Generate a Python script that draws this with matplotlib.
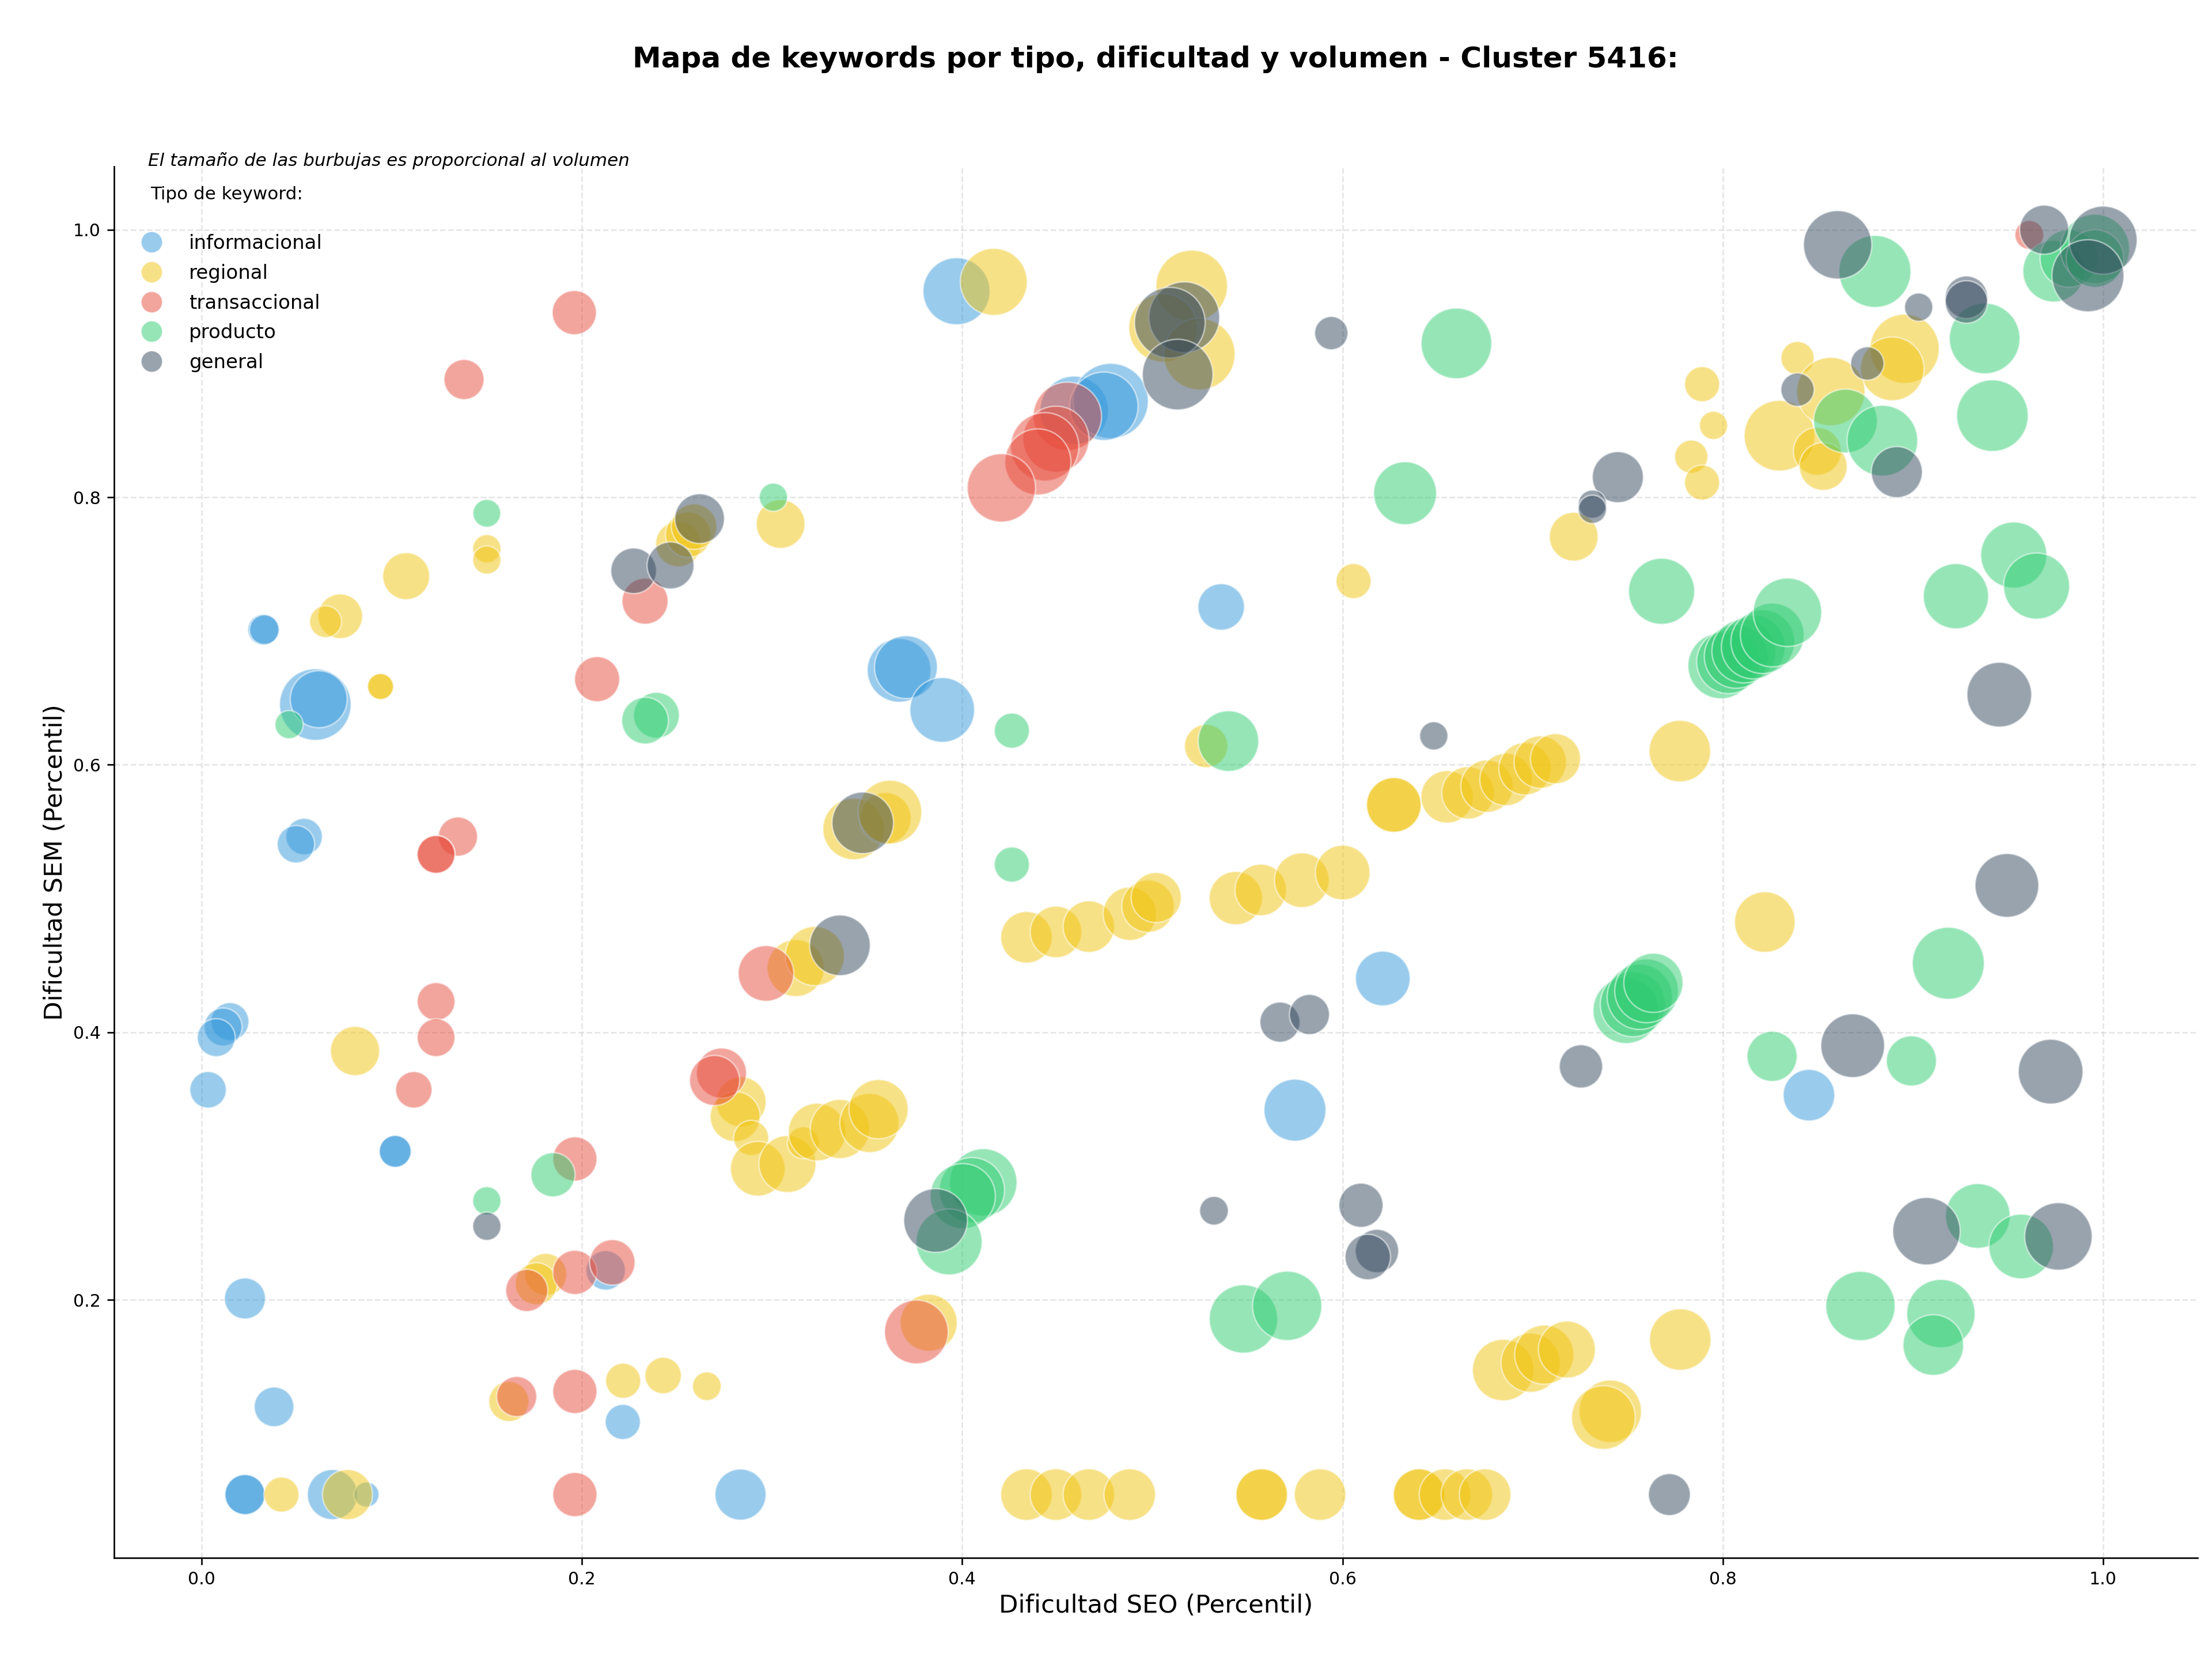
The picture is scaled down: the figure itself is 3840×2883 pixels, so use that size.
import numpy
from matplotlib import pyplot
from matplotlib.lines import Line2D

# keyword types and their colours
tipos = ['informacional', 'regional', 'transaccional', 'producto', 'general']
colores = {'informacional': '#3498db', 'regional': '#f1c40f',
           'transaccional': '#e74c3c', 'producto': '#2ecc71',
           'general': '#34495e'}

# informacional keywords: SEO difficulty, SEM difficulty, volume
info_seo = [0.397, 0.0324, 0.0330, 0.0598, 0.0616, 0.0539, 0.0496, 0.0149,
            0.0113, 0.0077, 0.0034, 0.1018, 0.1018, 0.0228, 0.2125, 0.0381,
            0.2215, 0.0228, 0.0228, 0.0688, 0.0867, 0.2834, 0.3668, 0.3704,
            0.3895, 0.6212, 0.5750, 0.8453, 0.4589, 0.4781, 0.4745, 0.5362]
info_sem = [0.954, 0.701, 0.701, 0.645, 0.649, 0.5463, 0.5406, 0.408,
            0.404, 0.396, 0.357, 0.311, 0.311, 0.201, 0.222, 0.120,
            0.1087, 0.0544, 0.0544, 0.0544, 0.0544, 0.0544, 0.6706, 0.673,
            0.641, 0.4402, 0.3418, 0.353, 0.865, 0.872, 0.868, 0.718]
info_vol = [1216, 260, 240, 1387, 880, 360, 380, 390,
            390, 390, 360, 276, 276, 456, 420, 426,
            334, 436, 436, 680, 170, 706, 1100, 1070,
            1134, 810, 1040, 720, 1266, 1530, 1266, 585]

# regional keywords
reg_seo = [0.4166, 0.5207, 0.5056, 0.5247, 0.150, 0.150, 0.1076, 0.0729,
           0.0652, 0.3045, 0.2507, 0.2559, 0.2590, 0.0941, 0.0941, 0.0807,
           0.3124, 0.3225, 0.2837, 0.2806, 0.289, 0.2925, 0.3081, 0.3164,
           0.3237, 0.3357, 0.3512, 0.356, 0.181, 0.176, 0.1616, 0.2217,
           0.2427, 0.2657, 0.0420, 0.0767, 0.3429, 0.3596, 0.3620, 0.5283,
           0.4338, 0.4493, 0.4666, 0.4881, 0.4977, 0.502, 0.5439, 0.557,
           0.5786, 0.6001, 0.627, 0.627, 0.655, 0.666, 0.676, 0.686,
           0.696, 0.704, 0.712, 0.7774, 0.8221, 0.3824, 0.4338, 0.4493,
           0.4666, 0.4881, 0.5575, 0.5575, 0.5882, 0.6403, 0.6403, 0.6539,
           0.6654, 0.6750, 0.6845, 0.6989, 0.7061, 0.7180, 0.7408, 0.7372,
           0.7776, 0.6058, 0.8956, 0.8891, 0.8393, 0.8298, 0.8568, 0.8497,
           0.8528, 0.7891, 0.7951, 0.7834, 0.7891, 0.7216]
reg_sem = [0.961, 0.958, 0.9266, 0.907, 0.7615, 0.7531, 0.741, 0.711,
           0.707, 0.780, 0.765, 0.772, 0.778, 0.6585, 0.6585, 0.386,
           0.448, 0.457, 0.348, 0.337, 0.321, 0.298, 0.3015, 0.3174,
           0.3254, 0.3277, 0.3322, 0.3425, 0.219, 0.212, 0.124, 0.1395,
           0.1434, 0.1354, 0.0544, 0.0544, 0.552, 0.560, 0.5646, 0.614,
           0.471, 0.475, 0.479, 0.4886, 0.4943, 0.5007, 0.5003, 0.5064,
           0.5137, 0.5194, 0.570, 0.570, 0.576, 0.579, 0.584, 0.589,
           0.597, 0.602, 0.6045, 0.6102, 0.4824, 0.1829, 0.0544, 0.0544,
           0.0544, 0.0544, 0.0544, 0.0544, 0.0544, 0.0544, 0.0544, 0.0544,
           0.0544, 0.0544, 0.1475, 0.153, 0.159, 0.1628, 0.1167, 0.112,
           0.1703, 0.7373, 0.911, 0.896, 0.904, 0.846, 0.879, 0.8343,
           0.823, 0.8845, 0.8537, 0.8303, 0.811, 0.7705]
reg_vol = [1216, 1387, 1270, 1387, 216, 216, 597, 540,
           276, 644, 560, 560, 560, 183, 183, 656,
           880, 950, 680, 680, 334, 810, 880, 276,
           900, 950, 950, 950, 480, 480, 436, 334,
           360, 223, 334, 680, 1025, 720, 1100, 508,
           720, 720, 720, 770, 745, 680, 770, 720,
           810, 810, 810, 810, 745, 745, 745, 745,
           745, 745, 680, 1025, 995, 880, 720, 720,
           720, 720, 720, 720, 720, 720, 720, 720,
           720, 720, 1025, 950, 950, 880, 1056, 1100,
           1025, 334, 1300, 1100, 300, 1352, 1266, 620,
           620, 334, 216, 300, 334, 644]

# transaccional keywords
trans_seo = [0.196, 0.138, 0.2332, 0.2080, 0.1348, 0.1233, 0.1233, 0.1233,
             0.1233, 0.1116, 0.2968, 0.2734, 0.2698, 0.1963, 0.171, 0.1963,
             0.216, 0.1657, 0.1963, 0.1963, 0.3759, 0.4553, 0.4493, 0.4434,
             0.4398, 0.4206, 0.9612]
trans_sem = [0.938, 0.888, 0.7223, 0.664, 0.5463, 0.533, 0.533, 0.423,
             0.396, 0.357, 0.444, 0.3695, 0.364, 0.3053, 0.207, 0.2205,
             0.228, 0.1277, 0.1315, 0.0544, 0.176, 0.8605, 0.8434, 0.8377,
             0.8264, 0.807, 0.9961]
trans_vol = [529, 436, 574, 551, 416, 388, 388, 388,
             388, 360, 838, 680, 680, 529, 480, 529,
             560, 436, 529, 529, 1100, 1266, 1183, 1266,
             1183, 1266, 225]

# producto keywords
prod_seo = [0.150, 0.3007, 0.0460, 0.2392, 0.2332, 0.1848, 0.150, 0.4261,
            0.4261, 0.5400, 0.4111, 0.4051, 0.4003, 0.3931, 0.5479, 0.5709,
            0.6599, 0.6329, 0.799, 0.803, 0.807, 0.811, 0.816, 0.821,
            0.826, 0.834, 0.7491, 0.7527, 0.7563, 0.7599, 0.7635, 0.9186,
            0.8259, 0.8992, 0.9341, 0.9569, 0.8724, 0.9147, 0.9107, 0.8800,
            0.974, 0.982, 0.9957, 0.9957, 0.9377, 0.9418, 0.8645, 0.8839,
            0.7678, 0.9226, 0.9530, 0.9650]
prod_sem = [0.788, 0.800, 0.630, 0.637, 0.633, 0.2935, 0.274, 0.6255,
            0.5254, 0.6177, 0.2878, 0.282, 0.2775, 0.2433, 0.1857, 0.1955,
            0.915, 0.803, 0.674, 0.677, 0.681, 0.685, 0.688, 0.692,
            0.697, 0.714, 0.4163, 0.421, 0.4265, 0.431, 0.437, 0.4516,
            0.382, 0.3786, 0.2627, 0.2399, 0.1954, 0.1897, 0.1662, 0.9688,
            0.969, 0.9785, 0.9857, 0.9785, 0.9187, 0.861, 0.857, 0.8423,
            0.7297, 0.726, 0.7568, 0.7336]
prod_vol = [209, 216, 216, 570, 590, 529, 216, 334,
            334, 995, 1230, 1150, 1150, 1180, 1266, 1300,
            1352, 1072, 1180, 1100, 1100, 1100, 1100, 1100,
            1100, 1270, 1183, 1150, 1150, 1100, 950, 1404,
            680, 680, 1134, 1134, 1300, 1266, 995, 1404,
            1030, 900, 1296, 900, 1352, 1387, 1100, 1352,
            1183, 1150, 1183, 1183]

# general keywords
gen_seo = [0.2619, 0.2272, 0.2466, 0.150, 0.3357, 0.3477, 0.5168, 0.5092,
           0.5133, 0.5941, 0.6480, 0.5671, 0.5826, 0.3860, 0.5324, 0.6097,
           0.6181, 0.6133, 0.7719, 0.9071, 0.9765, 0.9454, 0.9494, 0.7254,
           0.8683, 0.9724, 0.8604, 0.969, 1.0, 0.992, 0.9030, 0.9281,
           0.9281, 0.8760, 0.8393, 0.8915, 0.7448, 0.7314, 0.7314]
gen_sem = [0.784, 0.745, 0.749, 0.255, 0.465, 0.5566, 0.9346, 0.9305,
           0.8917, 0.9227, 0.6216, 0.4076, 0.4133, 0.2593, 0.2666, 0.2707,
           0.2365, 0.232, 0.0544, 0.2513, 0.2474, 0.6524, 0.5098, 0.3745,
           0.390, 0.3706, 0.9887, 1.0, 0.9922, 0.9656, 0.9421, 0.9495,
           0.946, 0.9, 0.8804, 0.8188, 0.815, 0.7948, 0.791]
gen_vol = [668, 563, 597, 216, 995, 1025, 1352, 1352,
           1352, 300, 216, 436, 436, 1100, 223, 529,
           510, 560, 476, 1232, 1232, 1134, 1100, 508,
           1100, 1134, 1266, 652, 1253, 1406, 216, 490,
           490, 300, 300, 706, 706, 216, 216]

# put the series together per keyword type
datos = {'informacional': (info_seo, info_sem, info_vol),
         'regional': (reg_seo, reg_sem, reg_vol),
         'transaccional': (trans_seo, trans_sem, trans_vol),
         'producto': (prod_seo, prod_sem, prod_vol),
         'general': (gen_seo, gen_sem, gen_vol)}

# bubble area per unit of volume
ESCALA = 1.0

# create the figure and place the axes by hand
fig = pyplot.figure(figsize=(16, 12.0125), dpi=240)
ax = fig.add_axes([0.0516, 0.0621, 0.9419, 0.8377])

# draw one scatter per keyword type
for tipo in tipos:
    seo, sem, vol = datos[tipo]
    ax.scatter(seo, sem, s=numpy.array(vol) * ESCALA, color=colores[tipo],
               alpha=0.5, edgecolors='white', linewidths=0.8, label=tipo,
               zorder=3)

# axis limits, labels and grid
ax.set_xlim([-0.046, 1.0497])
ax.set_ylim([0.0071, 1.0473])
ax.set_xticks([0.0, 0.2, 0.4, 0.6, 0.8, 1.0])
ax.set_yticks([0.2, 0.4, 0.6, 0.8, 1.0])
ax.tick_params(labelsize=9)
ax.set_xlabel('Dificultad SEO (Percentil)', fontsize=13, labelpad=3)
ax.set_ylabel('Dificultad SEM (Percentil)', fontsize=13, labelpad=3)
ax.grid(True, linestyle='--', color='#cccccc', alpha=0.5, zorder=0)
ax.spines['top'].set_visible(False)
ax.spines['right'].set_visible(False)

# title centred over the axes
fig.text(0.5225, 0.9594, 'Mapa de keywords por tipo, dificultad y volumen - Cluster 5416:',
         ha='center', va='baseline', fontsize=15, fontweight='bold')

# note about bubble size
ax.text(0.0163, 1.004, 'El tamaño de las burbujas es proporcional al volumen',
        transform=ax.transAxes, fontsize=9.3, style='italic', va='center')

# legend with a separate title line
ax.text(0.0174, 0.980, 'Tipo de keyword:', transform=ax.transAxes,
        fontsize=9.3, va='center')
handles = [Line2D([0], [0], marker='o', linestyle='none', markersize=11,
                  markerfacecolor=colores[t], markeredgecolor='white',
                  markeredgewidth=0.5, alpha=0.5) for t in tipos]
ax.legend(handles, tipos, loc='upper left', bbox_to_anchor=(0.0133, 0.9514),
          frameon=False, fontsize=10.2, borderaxespad=0, borderpad=0,
          handlelength=1.0, handletextpad=1.4, labelspacing=0.55)

fig.savefig('out.png')
